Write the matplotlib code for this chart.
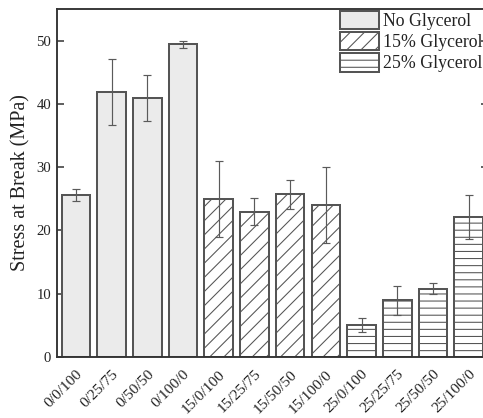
import matplotlib
matplotlib.use("Agg")
import matplotlib.pyplot as plt
import numpy as np

categories = ["0/0/100", "0/25/75", "0/50/50", "0/100/0",
              "15/0/100", "15/25/75", "15/50/50", "15/100/0",
              "25/0/100", "25/25/75", "25/50/50", "25/100/0"]
groups = ["No Glycerol", "15% Glycerol", "25% Glycerol"]
group_of_bar = [0, 0, 0, 0, 1, 1, 1, 1, 2, 2, 2, 2]
stress = [25.6, 41.9, 40.9, 49.4, 25.0, 22.9, 25.7, 24.0, 5.1, 9.0, 10.8, 22.1]
err_low = [1.0, 5.2, 3.6, 0.5, 6.0, 2.1, 2.3, 6.0, 1.1, 2.3, 0.9, 3.5]
err_high = [1.0, 5.2, 3.6, 0.5, 5.9, 2.2, 2.3, 6.1, 1.1, 2.3, 0.9, 3.5]
yticks = [0, 10, 20, 30, 40, 50]

DPI = 85
plt.rcParams['font.family'] = ['Liberation Serif', 'DejaVu Serif']
plt.rcParams['hatch.linewidth'] = 0.9

fig = plt.figure(figsize=(483 / DPI, 418 / DPI), dpi=DPI)
ax = fig.add_axes([57 / 483, 61 / 418, (488 - 57) / 483, (357 - 9) / 418])

styles = [dict(facecolor='#ebebeb', hatch=None),
          dict(facecolor='white', hatch='//'),
          dict(facecolor='white', hatch='--')]
edge = '#555555'

x = np.arange(len(categories))
handles = [None, None, None]
for g in range(3):
    idx = [i for i in range(len(categories)) if group_of_bar[i] == g]
    vals = [stress[i] for i in idx]
    yerr = [[err_low[i] for i in idx], [err_high[i] for i in idx]]
    b = ax.bar(x[idx], vals, width=0.8, facecolor=styles[g]['facecolor'],
               hatch=styles[g]['hatch'], edgecolor=edge, linewidth=1.7,
               label=groups[g], zorder=2)
    ax.errorbar(x[idx], vals, yerr=yerr, fmt='none', ecolor='#5a5a5a',
                elinewidth=1.0, capsize=3.5, capthick=1.0, zorder=3)
    handles[g] = b

ax.set_xlim(-0.53, 11.54)
ax.set_ylim(0, 55)
ax.set_yticks(yticks)
ax.set_xticks(x)
ax.set_xticklabels(categories, rotation=45, ha='right', rotation_mode='anchor')
ax.tick_params(axis='both', direction='in', length=6, width=1.3, color='#333333',
               labelsize=12.5, labelcolor='#222222')
ax.tick_params(axis='y', right=True, pad=5)
ax.tick_params(axis='x', labelsize=13, pad=9)
for s in ax.spines.values():
    s.set_linewidth(1.6)
    s.set_color('#333333')

ax.set_ylabel("Stress at Break (MPa)", fontsize=17, color='#222222', labelpad=5)

leg = fig.legend(handles=handles, labels=groups, loc='upper left',
                 bbox_to_anchor=(340 / 483, 1 - 11 / 418), frameon=False,
                 fontsize=15, handlelength=2.2, handleheight=1.2,
                 handletextpad=0.25, labelspacing=0.12, borderpad=0,
                 borderaxespad=0)
for t in leg.get_texts():
    t.set_color('#222222')

fig.savefig("out.png", dpi=DPI)
